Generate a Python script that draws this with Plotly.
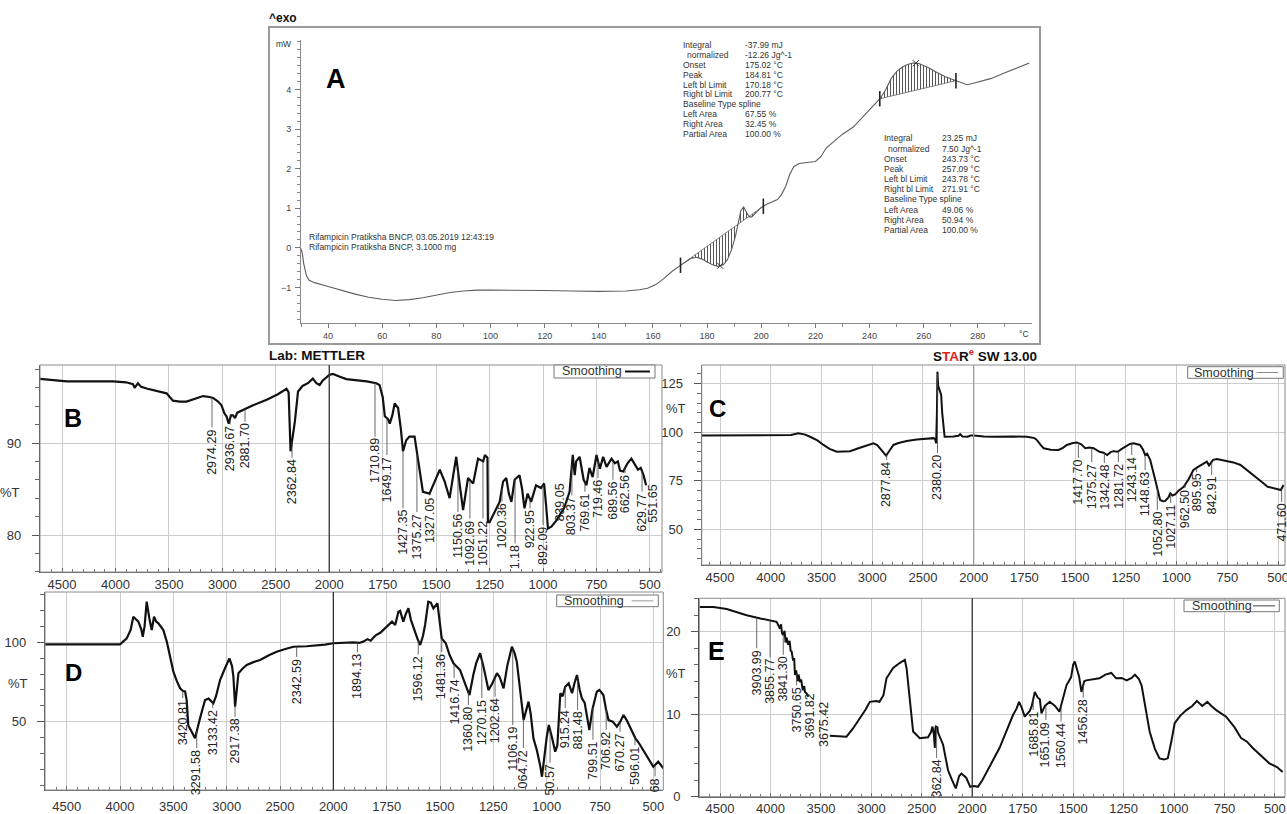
import numpy as np
import plotly.graph_objects as go

W, H = 1287, 814
FONT = "Liberation Sans, Arial, sans-serif"

# ================= DATA =================
# ---- Panel A : DSC thermogram (temperature degC, heat flow mW) ----
dsc_temp = [30, 30.5, 31, 32, 33, 35, 40, 45, 50, 55, 60, 65, 70, 75, 80, 85, 90, 95, 100,
            110, 120, 130, 140, 150, 155, 158, 161, 164, 167, 170, 172, 174, 176, 178, 180,
            182, 184, 186, 187.5, 189, 190.5, 191.5, 192.5, 193.5, 194.5, 195.5, 196.5, 198,
            200, 202, 204, 206, 207.5, 209, 210.5, 212, 214, 216, 218, 220, 222, 224, 226,
            230, 234, 238, 242, 244, 246, 248, 250, 252, 254, 256, 258, 260, 262, 264, 266,
            268, 270, 272, 274, 276, 278, 280, 285, 290, 295, 299]
dsc_mw = [-0.02, -0.15, -0.4, -0.7, -0.82, -0.88, -0.98, -1.08, -1.17, -1.25, -1.3, -1.33,
          -1.31, -1.26, -1.19, -1.13, -1.09, -1.07, -1.07, -1.07, -1.08, -1.09, -1.1, -1.09,
          -1.06, -1.02, -0.93, -0.78, -0.6, -0.45, -0.35, -0.27, -0.24, -0.28, -0.36, -0.43,
          -0.47, -0.43, -0.3, -0.05, 0.3, 0.65, 0.95, 1.03, 0.9, 0.78, 0.78, 0.88, 1.02, 1.1,
          1.17, 1.22, 1.35, 1.55, 1.85, 2.05, 2.13, 2.15, 2.16, 2.18, 2.3, 2.52, 2.64, 2.87,
          3.05, 3.35, 3.65, 3.78, 4.0, 4.28, 4.45, 4.56, 4.63, 4.67, 4.66, 4.61, 4.54, 4.46,
          4.38, 4.32, 4.27, 4.22, 4.15, 4.12, 4.15, 4.19, 4.28, 4.42, 4.55, 4.67]
dsc_limits_1 = [170.18, 200.77]
dsc_limits_2 = [243.78, 271.91]
dsc_peaks = [184.81, 257.09]
dsc_info_keys = ["Integral", "  normalized", "Onset", "Peak", "Left bl Limit", "Right bl Limit",
                 "Baseline Type", "Left Area", "Right Area", "Partial Area"]
dsc_info_1 = ["-37.99 mJ", "-12.26 Jg^-1", "175.02 °C", "184.81 °C", "170.18 °C", "200.77 °C",
              "spline", "67.55 %", "32.45 %", "100.00 %"]
dsc_info_2 = ["23.25 mJ", "7.50 Jg^-1", "243.73 °C", "257.09 °C", "243.78 °C", "271.91 °C",
              "spline", "49.06 %", "50.94 %", "100.00 %"]
dsc_sample = ["Rifampicin Pratiksha BNCP, 03.05.2019 12:43:19",
              "Rifampicin Pratiksha BNCP, 3.1000 mg"]
dsc_xticks = [40, 60, 80, 100, 120, 140, 160, 180, 200, 220, 240, 260, 280]
dsc_yticks = [-1, 0, 1, 2, 3, 4]

# ---- Panel B : FTIR ----
B_wn = [4705, 4456, 4023, 3900, 3836, 3820, 3790, 3760, 3700, 3600, 3522, 3462, 3400, 3335,
        3250, 3180, 3120, 3087, 3040, 3008, 2980, 2961, 2940, 2920, 2900, 2881, 2860, 2808,
        2713, 2585, 2480, 2400, 2380, 2362, 2345, 2322, 2292, 2250, 2200, 2154, 2120, 2090,
        2060, 2026, 2000, 1983, 1950, 1920, 1825, 1780, 1765, 1750, 1740, 1725, 1717, 1705,
        1694, 1678, 1665, 1655, 1640, 1625, 1601, 1585, 1562, 1531, 1505, 1483, 1460, 1437,
        1420, 1406, 1390, 1374, 1351, 1327, 1304, 1280, 1272, 1260, 1258, 1250, 1203, 1187,
        1172, 1160, 1148, 1133, 1110, 1098, 1087, 1072, 1056, 1033, 1010, 995, 985, 977, 961,
        940, 900, 880, 876, 861, 852, 845, 829, 810, 797, 783, 768, 750, 734, 719, 703, 680,
        664, 650, 640, 625, 605, 587, 570, 556, 543, 530, 518]
B_T = [96.96, 96.7, 96.7, 96.6, 96.4, 96.0, 96.5, 96.1, 95.9, 95.6, 95.4, 94.6, 94.5, 94.5,
       94.8, 95.1, 95.0, 94.9, 94.5, 94.1, 93.2, 92.9, 92.1, 93.0, 93.0, 92.7, 93.3, 93.6,
       94.1, 94.7, 95.3, 95.9, 95.5, 89.1, 90.5, 92.3, 95.6, 96.2, 96.5, 97.0, 96.5, 96.3,
       96.8, 97.2, 97.4, 97.5, 97.2, 96.95, 96.7, 96.5, 96.3, 95.0, 92.9, 92.6, 92.1, 93.0,
       94.3, 93.8, 91.5, 89.1, 90.3, 90.7, 90.7, 88.0, 84.7, 84.5, 86.0, 87.1, 85.8, 84.0,
       86.5, 88.5, 85.5, 82.7, 86.2, 85.6, 88.3, 88.0, 88.7, 88.4, 81.4, 81.4, 83.6, 85.8,
       86.2, 84.5, 83.6, 86.0, 86.5, 85.0, 82.9, 84.5, 83.6, 85.4, 85.1, 85.6, 83.0, 80.7, 80.9,
       81.5, 83.0, 84.5, 84.7, 88.7, 86.5, 88.0, 88.5, 86.0, 85.4, 87.3, 86.3, 88.7, 87.2, 88.5,
       87.4, 88.3, 87.8, 88.0, 87.0, 86.9, 87.8, 88.3, 87.6, 87.1, 87.3, 86.5, 85.4]
B_peaks = ["2974.29", "2936.67", "2881.70", "2362.84", "1710.89", "1649.17", "1427.35",
           "1375.27", "1327.05", "1150.56", "1092.69", "1051.22", "1020.36", "1.18", "922.95",
           "892.09", "839.05", "803.37", "769.61", "719.46", "689.56", "662.56", "629.77",
           "551.65"]

# ---- Panel C : FTIR ----
C_wn = [4680, 4200, 3875, 3800, 3728, 3660, 3612, 3540, 3480, 3420, 3349, 3280, 3218, 3150,
        3087, 3030, 2988, 2950, 2922, 2890, 2863, 2830, 2791, 2740, 2659, 2560, 2462, 2395,
        2380, 2370, 2362, 2357, 2350, 2340, 2330, 2320, 2310, 2300, 2286, 2200, 2150, 2133,
        2110, 2060, 2030, 2000, 1950, 1905, 1800, 1737, 1700, 1688, 1670, 1655, 1620, 1582,
        1560, 1541, 1510, 1491, 1470, 1450, 1430, 1409, 1380, 1360, 1342, 1325, 1310, 1290,
        1270, 1253, 1230, 1212, 1195, 1180, 1165, 1155, 1145, 1130, 1105, 1081, 1066, 1056,
        1040, 1031, 1020, 1007, 990, 965, 940, 917, 900, 892, 870, 851, 840, 833, 820, 801,
        780, 750, 720, 685, 670, 652, 630, 601, 575, 551, 520, 486, 473]
C_T = [98.3, 98.3, 98.4, 98.6, 99.5, 98.8, 97.7, 95.8, 93.5, 91.5, 90.0, 90.0, 90.3, 91.5,
       92.6, 93.8, 94.3, 93.4, 91.8, 89.5, 88.0, 90.5, 93.5, 94.5, 95.5, 96.3, 96.9, 97.0,
       96.5, 94.3, 110, 131.2, 124, 122.6, 120.5, 119.2, 110, 103.8, 97.7, 97.8, 98.2, 99.0,
       97.8, 97.7, 98.3, 98.3, 97.9, 97.7, 97.8, 97.7, 97.0, 96.0, 93.5, 91.8, 91.0, 90.9,
       92.0, 93.5, 94.5, 94.8, 93.8, 91.8, 92.2, 91.8, 90.0, 89.5, 88.3, 89.8, 90.3, 90.0,
       91.5, 92.6, 94.0, 94.3, 93.9, 93.5, 91.0, 88.3, 89.0, 85.8, 75.5, 65.2, 64.5, 64.7,
       66.5, 68.6, 67.5, 68.0, 70.0, 72.0, 76.0, 80.6, 81.8, 82.3, 83.5, 84.9, 83.0, 84.0,
       85.8, 86.3, 85.8, 85.2, 84.5, 83.2, 82.0, 80.6, 78.5, 76.3, 74.0, 72.0, 71.0, 70.3, 72.9]
C_peaks = ["2877.84", "2380.20", "1417.70", "1375.27", "1342.48", "1281.72", "1243.14",
           "1148.63", "1052.80", "1027.11", "962.50", "895.95", "842.91", "471.60"]

# ---- Panel D : FTIR ----
D_wn = [4703, 4000, 3937, 3900, 3875, 3850, 3828, 3800, 3787, 3770, 3750, 3725, 3703, 3681,
        3660, 3640, 3594, 3560, 3531, 3500, 3470, 3437, 3410, 3390, 3375, 3360, 3328, 3297,
        3250, 3203, 3170, 3125, 3100, 3062, 3020, 2975, 2950, 2937, 2921, 2905, 2890, 2850,
        2812, 2750, 2687, 2600, 2531, 2450, 2375, 2250, 2155, 2080, 2000, 1950, 1906, 1880,
        1860, 1840, 1825, 1812, 1800, 1780, 1757, 1740, 1725, 1710, 1695, 1687, 1672, 1660,
        1648, 1636, 1624, 1605, 1593, 1580, 1570, 1555, 1543, 1531, 1512, 1500, 1492, 1473,
        1455, 1437, 1406, 1380, 1362, 1344, 1330, 1312, 1295, 1273, 1255, 1233, 1220, 1202,
        1185, 1163, 1150, 1140, 1125, 1108, 1085, 1075, 1062, 1046, 1030, 1022, 1000, 990,
        975, 960, 950, 940, 936, 925, 913, 897, 881, 870, 858, 845, 835, 822, 800, 785, 765,
        753, 734, 722, 710, 690, 671, 655, 640, 625, 608, 584, 570, 553, 530, 500, 477, 453]
D_T = [98.7, 98.7, 102.5, 108, 116.1, 114.5, 113.0, 108, 103.5, 110, 125.6, 115, 107.7, 116.1,
       113, 112, 107.7, 100, 92.0, 81.5, 76, 71.0, 69.3, 69.0, 63.6, 47.5, 43.7, 39.5, 52.1,
       63.6, 64.5, 61.6, 66, 76.2, 83, 89.9, 85, 78.3, 59.4, 72, 80.5, 83.5, 85.7, 87.5, 88.8,
       92, 94.1, 95.8, 97.2, 97.5, 97.8, 98.5, 99.4, 99.8, 100, 99.6, 100.4, 102.0, 101.0,
       103, 104.5, 106, 108.8, 111, 113, 110.9, 119.3, 119.8, 113, 118, 121.4, 114, 108.8,
       102, 98.3, 104, 110.9, 125.6, 125, 121.4, 124.6, 112, 102.5, 99.4, 92, 86.8, 82.5, 73,
       66.8, 79.4, 87, 93.1, 84, 69.9, 74, 80.5, 78, 71.0, 85, 97.2, 93, 87.8, 70, 51.0, 62.6,
       55, 39.5, 32, 22, 15.3, 40, 47.9, 40, 31.1, 35, 62, 67.9, 66, 72, 74.2, 67.9, 74, 79.4,
       70, 64.7, 62, 44.7, 58, 68.9, 70, 66.8, 58, 51.0, 50, 46.8, 50, 54.2, 51, 45.8, 39.5,
       37, 33.2, 28, 21.6, 24.8, 20.6]
D_peaks = ["3420.81", "3291.58", "3133.42", "2917.38", "2342.59", "1894.13", "1596.12",
           "1481.36", "1416.74", "1360.80", "1270.15", "1202.64", "1106.19", "064.72", "50.57",
           "915.24", "881.48", "799.51", "706.92", "670.27", "596.01", "68"]

# ---- Panel E : FTIR (None = break in the trace) ----
E_wn = [4705, 4566, 4434, 4300, 4236, 4100, 4005, 3939, 3915, 3906, 3895, 3885, 3873, 3860,
        3850, 3840, 3824, 3810, 3800, 3790, 3775, 3765, 3757, 3745, 3730, 3720, 3708, 3695,
        3680, 3665, 3658, 3640, 3625, 3520, 3411, 3330, 3246, 3180, 3114, 3060, 3015, 2950,
        2920, 2899, 2880, 2850, 2784, 2720, 2668, 2650, 2635, 2610, 2586, 2520, 2438, 2410,
        2394, 2380, 2371, 2365, 2360, 2345, 2340, 2289, 2240, 2200, 2163, 2130, 2107, 2060,
        2020, 1990, 1972, 1950, 1929, 1865, 1798, 1780, 1768, 1755, 1740, 1715, 1705, 1690,
        1675, 1665, 1657, 1640, 1616, 1590, 1568, 1555, 1533, 1510, 1500, 1492, 1480, 1470,
        1459, 1445, 1435, 1400, 1370, 1340, 1311, 1287, 1260, 1235, 1210, 1194, 1175, 1161,
        1140, 1121, 1095, 1072, 1050, 1031, 1015, 997, 970, 939, 910, 887, 860, 835, 815, 791,
        742, 700, 668, 640, 610, 570, 528, 490, 462]
E_T = [23.0, 23.0, 22.75, 22.2, 22.0, 21.6, 21.4, 21.2, 20.6, 20.4, 20.9, 19.8, 19.6, 20.1,
       18.7, 19.3, 18.4, 18.9, 17.7, 17.6, 16.5, 16.8, 14.75, 15.3, 14.0, 14.8, 13.9, 14.2,
       12.9, 13.4, 12.7, 12.5, 12.1, None, 7.4, 7.3, 7.27, 8.3, 9.5, 10.5, 11.5, 11.6, 11.5,
       11.9, 12.3, 14.35, 15.6, 16.2, 16.6, 15.5, 13.5, 10.5, 7.9, 7.1, 7.2, 7.8, 8.5, 7.5,
       5.9, 8.3, 8.5, 8.4, 7.8, 6.3, 3.2, 2.0, 1.0, 2.5, 2.8, 2.3, 1.2, 1.3, 1.2, 2.0, 3.0,
       5.9, 9.9, 10.7, 11.5, 10.8, 9.7, 10.4, 11.0, 12.7, 12.0, 11.8, 10.1, 11.0, 11.5, 11.0,
       10.3, 11.5, 13.5, 14.5, 16.0, 16.4, 15.2, 14.5, 12.7, 14.0, 14.1, 14.2, 14.35, 14.8,
       15.0, 14.35, 14.4, 14.1, 14.4, 14.8, 14.3, 13.5, 10.5, 7.9, 5.8, 4.65, 4.5, 4.65, 6.5,
       8.9, 9.8, 10.5, 11.0, 11.6, 11.0, 11.5, 11.0, 10.5, 9.7, 8.4, 7.1, 6.7, 5.9, 5.0, 4.05,
       3.6, 3.0]
E_peaks = ["3903.99", "3855.77", "3841.30", "3750.65", "3691.82", "3675.42", "362.84",
           "1685.81", "1651.09", "1560.44", "1456.28"]

ftir_ticks_hi = [4500, 4000, 3500, 3000, 2500]
ftir_ticks_lo = [2000, 1750, 1500, 1250, 1000, 750, 500]

# ================= LAYOUT POSITIONS (label anchors, frames) =================
B_lab_x = [3097, 2928, 2788, 2348, 1786, 1730, 1655, 1590, 1529, 1398, 1342, 1281, 1192, 1131,
           1061, 1000, 921, 865, 804, 743, 673, 617, 537, 490]
B_lab_top = [91.7, 92.0, 92.3, 88.4, 90.7, 88.7, 82.9, 82.5, 84.3, 82.5, 81.8, 81.8, 83.6, 79.1,
             82.9, 81.1, 85.8, 84.3, 84.7, 86.2, 86.0, 86.7, 84.7, 85.7]
C_lab_x = [2857, 2356, 1484, 1418, 1356, 1287, 1221, 1155, 1095, 1029, 958, 901, 827, 482]
C_lab_top = [85.8, 89.4, 86.8, 84.7, 84.2, 84.7, 88.3, 80.6, 60.0, 63.6, 71.3, 79.6, 78.1, 64.2]
D_lab_x = [3412, 3281, 3131, 2922, 2344, 1887, 1602, 1492, 1434, 1367, 1304, 1242, 1159, 1109,
           984, 913, 855, 783, 721, 656, 586, 492]
D_lab_top = [64.9, 33.4, 58.6, 52.9, 90.7, 93.9, 92.2, 93.9, 77.5, 60.5, 64.9, 65.7, 47.9, 33.4,
             24.0, 58.6, 57.4, 38.6, 44.9, 43.6, 35.3, 15.5]
E_lab_x = [4136, 4004, 3873, 3740, 3608, 3476, 2353, 1698, 1635, 1560, 1450]
E_lab_top = [18.0, 16.9, 17.2, 13.5, 12.7, 11.7, 4.7, 10.5, 9.3, 9.1, 12.0]

panels = [
    dict(wn=B_wn, T=B_T, peaks=B_peaks, lx=B_lab_x, lt=B_lab_top, xl=2, xr=3, yi=2,
         L=40, p4500=62, s=53.45, R=662, top=365, bot=572, yref=(90, 443), ypx=9.2,
         ydt=10, ymdt=2, lw=2.2, div='#333', letter=('B', 73, 418, 25), pt=(22, 492),
         leg=(554, 365, 655, 378, 560, 625, 650, '#111', 2.0), xstand=0),
    dict(wn=C_wn, T=C_T, peaks=C_peaks, lx=C_lab_x, lt=C_lab_top, xl=4, xr=5, yi=3,
         L=701.7, p4500=720, s=50.73, R=1285, top=365, bot=565, yref=(100, 432.3), ypx=1.944,
         ydt=25, ymdt=5, lw=2.0, div='#9a9a9a', letter=('C', 718, 408, 24), pt=(688, 408),
         leg=(1187.7, 366.7, 1283.3, 378.3, 1192, 1256.7, 1278, '#888', 1.0), xstand=0),
    dict(wn=D_wn, T=D_T, peaks=D_peaks, lx=D_lab_x, lt=D_lab_top, xl=6, xr=7, yi=4,
         L=45, p4500=66.7, s=53.33, R=663.3, top=592, bot=790, yref=(100, 642.3), ypx=1.587,
         ydt=50, ymdt=10, lw=2.2, div='#333', letter=('D', 73, 672, 24), pt=(30, 683),
         leg=(556.7, 595, 658.3, 606.7, 562, 631.7, 653.3, '#999', 1.0), xstand=4),
    dict(wn=E_wn, T=E_T, peaks=E_peaks, lx=E_lab_x, lt=E_lab_top, xl=8, xr=9, yi=5,
         L=699.3, p4500=720, s=50.45, R=1285, top=598.3, bot=796.7, yref=(0, 796.7), ypx=8.25,
         ydt=10, ymdt=2, lw=2.0, div='#333', letter=('E', 716, 651, 25), pt=(688, 673),
         leg=(1184, 600, 1279.3, 611.7, 1189.5, 1253, 1275, '#444', 1.0), xstand=0),
]


def fx(p):
    return p / W


def fy(p):
    return 1 - p / H


fig = go.Figure()
shapes = []
annotations = []
axes = {}

# ================= Panel A =================
fig.add_trace(go.Scatter(x=dsc_temp, y=dsc_mw, mode='lines', line=dict(color='#5e5e5e', width=1.1),
                         xaxis='x', yaxis='y', showlegend=False, hoverinfo='skip'))
for lims in (dsc_limits_1, dsc_limits_2):
    inner = [t for t in dsc_temp if lims[0] < t < lims[1]]
    seg_x = [lims[0]] + inner + [lims[1]]
    seg_y = np.interp(seg_x, dsc_temp, dsc_mw)
    base_y = np.interp(seg_x, lims, [seg_y[0], seg_y[-1]])
    fig.add_trace(go.Scatter(x=seg_x, y=base_y, mode='lines', line=dict(color='#666', width=0.8),
                             xaxis='x', yaxis='y', showlegend=False, hoverinfo='skip'))
    fig.add_trace(go.Scatter(x=seg_x, y=seg_y, mode='lines', line=dict(width=0),
                             fill='tonexty', fillcolor='rgba(0,0,0,0)',
                             fillpattern=dict(shape='|', size=3, solidity=0.35, fgcolor='#555',
                                              bgcolor='rgba(0,0,0,0)'),
                             xaxis='x', yaxis='y', showlegend=False, hoverinfo='skip'))
lim_x = dsc_limits_1 + dsc_limits_2
fig.add_trace(go.Scatter(x=lim_x, y=np.interp(lim_x, dsc_temp, dsc_mw), mode='markers',
                         marker=dict(symbol='line-ns-open', size=11, color='#222',
                                     line=dict(width=1.6, color='#222')),
                         xaxis='x', yaxis='y', showlegend=False, hoverinfo='skip'))
fig.add_trace(go.Scatter(x=dsc_peaks, y=np.interp(dsc_peaks, dsc_temp, dsc_mw), mode='markers',
                         marker=dict(symbol='x-thin-open', size=6, color='#333',
                                     line=dict(width=1, color='#333')),
                         xaxis='x', yaxis='y', showlegend=False, hoverinfo='skip'))

tickfontA = dict(family=FONT, size=9, color='#444')
axes['xaxis'] = dict(domain=[fx(301), fx(1032)], range=[30, 300], anchor='y', automargin=False,
                     tickmode='array', tickvals=dsc_xticks, ticks='outside', ticklen=4,
                     tickcolor='#777', minor=dict(tickmode='array', tickvals=list(range(30, 300, 10)),
                                                  ticks='outside', ticklen=3, tickcolor='#888'),
                     showline=True, linecolor='#888', linewidth=1, showgrid=False, zeroline=False,
                     tickfont=tickfontA)
axes['yaxis'] = dict(domain=[fy(323), fy(40)], range=[-1.9, 5.25], anchor='x', automargin=False,
                     tickmode='array', tickvals=dsc_yticks, ticks='outside', ticklen=5,
                     tickcolor='#777', minor=dict(tickmode='linear', tick0=0, dtick=0.2,
                                                  ticks='outside', ticklen=3, tickcolor='#888'),
                     showline=True, linecolor='#888', linewidth=1, showgrid=False, zeroline=False,
                     tickfont=tickfontA, ticklabelstandoff=2)
shapes.append(dict(type='rect', xref='paper', yref='paper', x0=fx(269), x1=fx(1040), y0=fy(344),
                   y1=fy(27), line=dict(color='#9a9a9a', width=2), layer='below'))

small = dict(family=FONT, size=8.5, color='#333')
for i, (k, v1, v2) in enumerate(zip(dsc_info_keys, dsc_info_1, dsc_info_2)):
    y1 = 45 + 9.9 * i
    y2 = 138.3 + 10.2 * i
    kx1 = 685 if k.startswith('  ') else 680.7
    kx2 = 886 if k.startswith('  ') else 881.7
    if v1 == 'spline':
        items = ((k.strip() + ' ' + v1, kx1, y1), (k.strip() + ' ' + v2, kx2, y2))
    else:
        items = ((k.strip(), kx1, y1), (v1, 742.7, y1), (k.strip(), kx2, y2), (v2, 940, y2))
    for tx, xx, yy in items:
        annotations.append(dict(text=tx, x=fx(xx), y=fy(yy), xref='paper', yref='paper',
                                xanchor='left', yanchor='middle', showarrow=False, font=small))
for i, line in enumerate(dsc_sample):
    annotations.append(dict(text=line, x=fx(307), y=fy(236.7 + 10 * i), xref='paper', yref='paper',
                            xanchor='left', yanchor='middle', showarrow=False, font=small))
annotations += [
    dict(text='mW', x=fx(293), y=fy(44), xref='paper', yref='paper', xanchor='right',
         yanchor='middle', showarrow=False, font=small),
    dict(text='°C', x=fx(1024), y=fy(334), xref='paper', yref='paper', xanchor='center',
         yanchor='middle', showarrow=False, font=small),
    dict(text='<b>A</b>', x=fx(336), y=fy(79), xref='paper', yref='paper', xanchor='center',
         yanchor='middle', showarrow=False, font=dict(family=FONT, size=27, color='#000')),
    dict(text='<b>^exo</b>', x=fx(267), y=fy(18), xref='paper', yref='paper', xanchor='left',
         yanchor='middle', showarrow=False, font=dict(family=FONT, size=12, color='#111')),
    dict(text='<b>Lab: METTLER</b>', x=fx(267), y=fy(355), xref='paper', yref='paper',
         xanchor='left', yanchor='middle', showarrow=False,
         font=dict(family=FONT, size=13.5, color='#111')),
    dict(text="<b>S<span style='color:#e3231b'>TA</span>R<sup><span style='color:#e3231b'>e</span></sup> SW 13.00</b>",
         x=fx(1039), y=fy(355), xref='paper', yref='paper', xanchor='right', yanchor='middle',
         showarrow=False, font=dict(family=FONT, size=13.5, color='#111')),
]

# ================= FTIR panels =================
GRID = '#cdcdcd'
tickfont = dict(family=FONT, size=13, color='#333')
labfont = dict(family=FONT, size=12.5, color='#222')

for P in panels:
    s, L, R, top, bot = P['s'], P['L'], P['R'], P['top'], P['bot']
    M = P['p4500'] + 5 * s
    left_start = 4500 + (P['p4500'] - L) / s * 500
    right_end = 2000 - (R - M) / s * 250
    yv, ypix = P['yref']
    y_top = yv + (ypix - top) / P['ypx']
    y_bot = yv - (bot - ypix) / P['ypx']
    xl, xr, yi = P['xl'], P['xr'], P['yi']
    xln, xrn, yn = 'x%d' % xl, 'x%d' % xr, 'y%d' % yi

    common_x = dict(anchor=yn, showgrid=True, gridcolor=GRID, gridwidth=1, zeroline=False,
                    ticks='inside', ticklen=4, tickcolor='#666', showline=True,
                    linecolor='#666', linewidth=1, tickfont=tickfont, automargin=False,
                    ticklabelstandoff=P['xstand'], ticklabeloverflow='allow')
    axes['xaxis%d' % xl] = dict(domain=[fx(L), fx(M)], range=[left_start, 2000],
                                tickmode='array', tickvals=ftir_ticks_hi,
                                minor=dict(tickmode='array', tickvals=list(range(2100, 4800, 100)),
                                           ticks='inside', ticklen=3, tickcolor='#777',
                                           showgrid=False), **common_x)
    axes['xaxis%d' % xr] = dict(domain=[fx(M), fx(R)], range=[2000, right_end],
                                tickmode='array', tickvals=ftir_ticks_lo,
                                minor=dict(tickmode='array', tickvals=list(range(450, 2000, 50)),
                                           ticks='inside', ticklen=3, tickcolor='#777',
                                           showgrid=False), **common_x)
    axes['yaxis%d' % yi] = dict(domain=[fy(bot), fy(top)], range=[y_bot, y_top], anchor=xln,
                                tickmode='linear', tick0=0, dtick=P['ydt'], ticks='outside',
                                ticklen=7, tickcolor='#555', automargin=False,
                                minor=dict(tickmode='linear', tick0=0, dtick=P['ymdt'],
                                           ticks='outside', ticklen=4, tickcolor='#666',
                                           showgrid=False),
                                showgrid=True, gridcolor=GRID, gridwidth=1, zeroline=False,
                                showline=True, linecolor='#444', linewidth=1.2,
                                tickfont=tickfont, ticklabelstandoff=8)

    for xa in (xln, xrn):
        fig.add_trace(go.Scatter(x=P['wn'], y=P['T'], mode='lines', connectgaps=False,
                                 line=dict(color='#111', width=P['lw']), xaxis=xa, yaxis=yn,
                                 showlegend=False, hoverinfo='skip'))

    # frame and 2000 divider
    shapes.append(dict(type='rect', xref='paper', yref='paper', x0=fx(L), x1=fx(R), y0=fy(bot),
                       y1=fy(top), line=dict(color='#8c8c8c', width=1)))
    shapes.append(dict(type='line', xref='paper', yref='paper', x0=fx(M), x1=fx(M), y0=fy(bot),
                       y1=fy(top), line=dict(color=P['div'], width=1.3)))

    # peak labels with leader lines
    valid = [(w, t) for w, t in zip(P['wn'], P['T']) if t is not None]
    wv = np.array([v[0] for v in valid], dtype=float)[::-1]
    tv = np.array([v[1] for v in valid], dtype=float)[::-1]
    for txt, xw, tp in zip(P['peaks'], P['lx'], P['lt']):
        xa = xln if xw >= 2000 else xrn
        annotations.append(dict(text=txt, x=xw, y=tp, xref=xa, yref=yn, textangle=-90,
                                xanchor='center', yanchor='top', showarrow=False, font=labfont))
        cv = float(np.interp(xw, wv, tv))
        if cv > tp:
            shapes.append(dict(type='line', xref=xa, yref=yn, x0=xw, x1=xw, y0=tp, y1=cv,
                               line=dict(color='#444', width=0.8)))

    # panel letter and %T
    letter, lxp, lyp, lsz = P['letter']
    annotations.append(dict(text='<b>%s</b>' % letter, x=fx(lxp), y=fy(lyp), xref='paper',
                            yref='paper', xanchor='center', yanchor='middle', showarrow=False,
                            font=dict(family=FONT, size=lsz, color='#000')))
    annotations.append(dict(text='%T', x=fx(P['pt'][0]), y=fy(P['pt'][1]), xref='paper',
                            yref='paper', xanchor='right', yanchor='middle', showarrow=False,
                            font=tickfont))

    # "Smoothing" legend box
    bx0, by0, bx1, by1, tx0, lx0, lx1, lcol, lwid = P['leg']
    shapes.append(dict(type='rect', xref='paper', yref='paper', x0=fx(bx0), x1=fx(bx1),
                       y0=fy(by1), y1=fy(by0), line=dict(color='#777', width=1),
                       fillcolor='white'))
    shapes.append(dict(type='line', xref='paper', yref='paper', x0=fx(lx0), x1=fx(lx1),
                       y0=fy((by0 + by1) / 2), y1=fy((by0 + by1) / 2),
                       line=dict(color=lcol, width=lwid)))
    annotations.append(dict(text='Smoothing', x=fx(tx0), y=fy((by0 + by1) / 2), xref='paper',
                            yref='paper', xanchor='left', yanchor='middle', showarrow=False,
                            font=dict(family=FONT, size=12.5, color='#333')))

fig.update_layout(template='none', width=W, height=H, margin=dict(l=0, r=0, t=0, b=0),
                  paper_bgcolor='white', plot_bgcolor='white', showlegend=False,
                  shapes=shapes, annotations=annotations, **axes)
fig.write_html("out.html", config={'displayModeBar': False},
               post_script="document.body.style.margin='0px';document.body.style.overflow='hidden';")
